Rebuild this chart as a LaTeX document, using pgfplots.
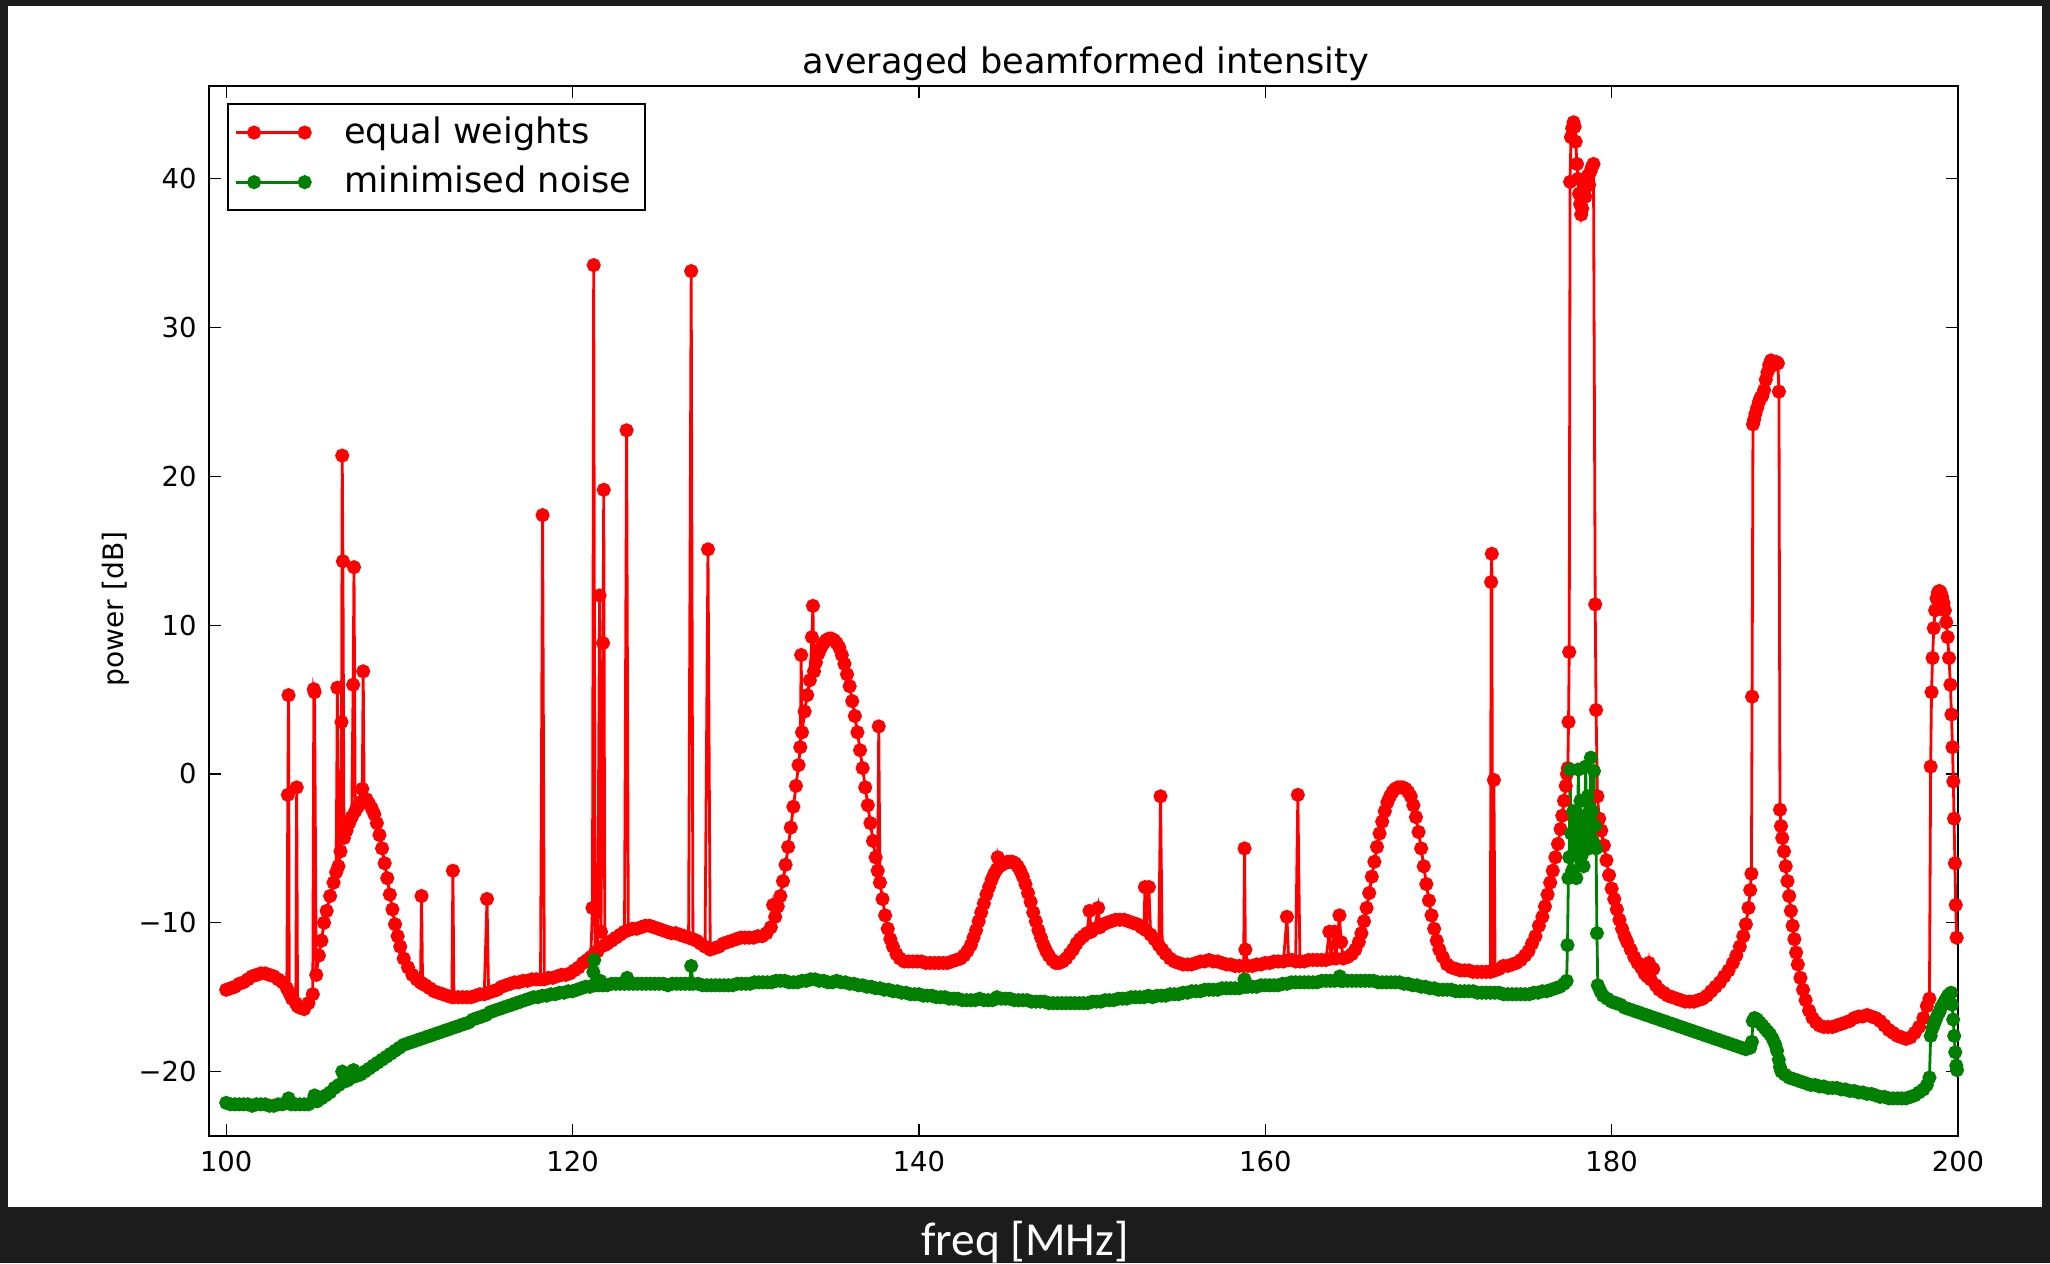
\documentclass[border=0pt]{standalone}
\usepackage{pgfplots}
\pgfplotsset{compat=1.18}
\usepackage{fontspec}
\setmainfont{DejaVu Sans}
\newfontfamily\carlito{Carlito}
\definecolor{bg}{HTML}{1C1C1C}
\definecolor{mplred}{RGB}{255,0,0}
\definecolor{mplgreen}{RGB}{0,128,0}
\begin{document}
\begin{tikzpicture}
\useasboundingbox (0,0) rectangle (205mm,126.3mm);
\fill[bg] (0,0) rectangle (205mm,126.3mm);
\fill[white] (0.8mm,5.6mm) rectangle (204.2mm,125.7mm);
\begin{axis}[
  at={(20.9mm,12.7mm)}, anchor=south west,
  scale only axis, width=174.9mm, height=105mm,
  xmin=99.007, xmax=200, ymin=-24.33, ymax=46.24,
  xtick={100,120,140,160,180,200},
  xticklabels={100,120,140,160,180,200},
  ytick={-20,-10,0,10,20,30,40},
  yticklabels={−20,−10,0,10,20,30,40},
  tick label style={font=\fontsize{7.8}{9}\selectfont},
  xticklabel style={yshift=-0.8pt},
  tick align=inside, major tick length=1.2mm,
  tick style={black, line width=0.12mm},
  axis line style={line width=0.25mm},
  legend style={at={(rel axis cs:0,1)}, anchor=north west, xshift=1.77mm, yshift=-1.73mm,
    draw=black, fill=white, line width=0.2mm, inner xsep=0.7mm, inner ysep=1.5pt,
    font=\fontsize{10}{12}\selectfont, row sep=1pt, column sep=2.7mm,
    cells={anchor=west, inner xsep=0pt, inner ysep=0pt, text height=7.6pt, text depth=2.4pt}},
  legend image code/.code={\path (0mm,0mm) -- (1.8mm,0mm);
    \draw[#1] plot coordinates {(1.8mm,0mm) (6.86mm,0mm)};},
]
\addplot[color=mplred, line width=0.28mm, mark=*, mark size=1.6pt] coordinates {
(100,-14.5)(100.25,-14.4)(100.5,-14.3)(100.75,-14.1)(101,-14.0)(101.25,-13.8)(101.5,-13.6)(101.75,-13.5)(102,-13.4)(102.25,-13.4)(102.5,-13.5)(102.75,-13.6)(103,-13.8)(103.25,-14.0)(103.5,-14.4)(103.56,-1.4)(103.6,5.3)(103.64,-14.7)(103.8,-15.1)(104.02,-15.4)(104.07,-0.9)(104.12,-15.6)(104.25,-15.7)(104.5,-15.8)(104.75,-15.4)(105,-14.8)(105.06,5.7)(105.1,5.5)(105.2,-13.5)(105.35,-12.2)(105.5,-11.2)(105.65,-10.0)(105.8,-9.2)(106,-8.2)(106.2,-7.3)(106.35,-6.6)(106.42,5.8)(106.48,-6.2)(106.6,-5.2)(106.66,3.5)(106.7,21.4)(106.74,14.3)(106.8,-4.3)(106.95,-3.8)(107.1,-3.3)(107.25,-2.9)(107.33,6.0)(107.38,13.9)(107.45,-2.5)(107.6,-2.2)(107.75,-1.9)(107.86,-1.0)(107.91,6.9)(107.97,-1.7)(108.1,-1.7)(108.25,-2.0)(108.4,-2.3)(108.55,-2.7)(108.7,-3.3)(108.85,-4.1)(109,-5.0)(109.15,-6.0)(109.3,-7.0)(109.45,-8.1)(109.6,-9.1)(109.75,-10.1)(109.9,-10.9)(110.05,-11.6)(110.25,-12.4)(110.5,-13.0)(110.75,-13.5)(111,-13.8)(111.22,-14.0)(111.28,-8.2)(111.34,-14.1)(111.5,-14.2)(111.75,-14.4)(112,-14.6)(112.25,-14.7)(112.5,-14.8)(112.75,-14.9)(113.03,-15.0)(113.09,-6.5)(113.15,-15.0)(113.4,-15.0)(113.65,-15.0)(113.9,-15.0)(114.15,-15.0)(114.4,-14.9)(114.65,-14.8)(114.9,-14.8)(115.06,-8.4)(115.15,-14.7)(115.4,-14.6)(115.65,-14.5)(115.9,-14.3)(116.15,-14.2)(116.4,-14.1)(116.65,-14.0)(116.9,-14.0)(117.15,-13.9)(117.4,-13.9)(117.65,-13.8)(117.9,-13.8)(118.15,-13.8)(118.27,17.4)(118.37,-13.8)(118.6,-13.7)(118.85,-13.7)(119.1,-13.6)(119.35,-13.5)(119.6,-13.5)(119.85,-13.4)(120.1,-13.2)(120.35,-13.0)(120.6,-12.7)(120.85,-12.5)(121.05,-12.3)(121.15,-9.0)(121.22,34.2)(121.3,-12.0)(121.45,-11.9)(121.56,12.0)(121.64,-10.6)(121.76,8.8)(121.8,19.1)(121.86,-11.5)(122,-11.4)(122.25,-11.2)(122.5,-11.0)(122.75,-10.8)(123,-10.6)(123.12,23.1)(123.22,-10.5)(123.45,-10.4)(123.7,-10.4)(123.95,-10.3)(124.2,-10.2)(124.45,-10.2)(124.7,-10.3)(124.95,-10.4)(125.2,-10.5)(125.45,-10.6)(125.7,-10.7)(125.95,-10.7)(126.2,-10.8)(126.45,-10.9)(126.7,-11.0)(126.85,33.8)(126.95,-11.1)(127.15,-11.2)(127.4,-11.4)(127.65,-11.6)(127.82,15.1)(127.95,-11.8)(128.2,-11.7)(128.45,-11.6)(128.7,-11.4)(128.95,-11.3)(129.2,-11.2)(129.45,-11.1)(129.7,-11.0)(129.95,-11.0)(130.2,-11.0)(130.45,-11.0)(130.7,-10.9)(130.95,-10.9)(131.2,-10.7)(131.45,-10.3)(131.58,-8.8)(131.7,-9.6)(131.85,-8.9)(132,-8.2)(132.15,-7.2)(132.3,-6.1)(132.45,-4.9)(132.6,-3.6)(132.75,-2.2)(132.9,-0.8)(133.05,0.6)(133.15,1.8)(133.2,8.0)(133.25,2.8)(133.4,4.2)(133.55,5.3)(133.7,6.3)(133.82,9.2)(133.88,11.3)(133.94,6.9)(134.05,7.5)(134.2,8.1)(134.35,8.5)(134.5,8.8)(134.65,9.0)(134.8,9.1)(134.95,9.1)(135.1,9.0)(135.25,8.8)(135.4,8.5)(135.55,8.0)(135.7,7.4)(135.85,6.7)(136,5.9)(136.15,4.9)(136.3,3.9)(136.45,2.8)(136.6,1.6)(136.75,0.4)(136.9,-0.9)(137.05,-2.1)(137.2,-3.3)(137.35,-4.5)(137.5,-5.6)(137.62,-6.5)(137.68,3.2)(137.75,-7.3)(137.9,-8.4)(138.05,-9.5)(138.2,-10.4)(138.35,-11.1)(138.5,-11.6)(138.7,-12.1)(138.9,-12.4)(139.15,-12.6)(139.4,-12.6)(139.65,-12.6)(139.9,-12.6)(140.15,-12.6)(140.4,-12.7)(140.65,-12.7)(140.9,-12.7)(141.15,-12.7)(141.4,-12.7)(141.65,-12.7)(141.9,-12.6)(142.15,-12.5)(142.4,-12.4)(142.6,-12.2)(142.8,-11.9)(143,-11.5)(143.15,-11.0)(143.3,-10.5)(143.45,-9.9)(143.6,-9.3)(143.75,-8.7)(143.9,-8.1)(144.05,-7.6)(144.2,-7.1)(144.35,-6.7)(144.5,-6.4)(144.55,-5.6)(144.65,-6.2)(144.8,-6.1)(144.95,-6.0)(145.1,-5.9)(145.25,-5.9)(145.4,-5.9)(145.55,-6.0)(145.7,-6.2)(145.85,-6.5)(146,-6.9)(146.15,-7.4)(146.3,-8.0)(146.45,-8.6)(146.6,-9.3)(146.75,-9.9)(146.9,-10.5)(147.05,-11.0)(147.2,-11.5)(147.35,-11.9)(147.5,-12.2)(147.7,-12.5)(147.9,-12.7)(148.1,-12.7)(148.3,-12.6)(148.5,-12.4)(148.7,-12.1)(148.9,-11.8)(149.1,-11.4)(149.3,-11.1)(149.5,-10.9)(149.7,-10.7)(149.85,-9.2)(149.95,-10.6)(150.15,-10.4)(150.35,-9.0)(150.45,-10.3)(150.65,-10.1)(150.85,-10.0)(151.1,-9.9)(151.35,-9.8)(151.6,-9.8)(151.85,-9.8)(152.1,-9.9)(152.35,-10.0)(152.6,-10.1)(152.85,-10.3)(153,-10.4)(153.05,-7.6)(153.12,-10.5)(153.28,-7.6)(153.38,-10.8)(153.6,-11.1)(153.85,-11.5)(153.95,-1.5)(154.05,-11.8)(154.25,-12.1)(154.5,-12.4)(154.75,-12.6)(155,-12.7)(155.25,-12.8)(155.5,-12.8)(155.75,-12.8)(156,-12.7)(156.25,-12.6)(156.5,-12.6)(156.75,-12.5)(157,-12.6)(157.25,-12.6)(157.5,-12.7)(157.75,-12.8)(158,-12.8)(158.25,-12.9)(158.5,-12.9)(158.75,-12.9)(158.8,-5.0)(158.85,-11.8)(159,-12.9)(159.25,-12.9)(159.5,-12.8)(159.75,-12.8)(160,-12.7)(160.25,-12.7)(160.5,-12.6)(160.75,-12.6)(161.05,-12.6)(161.25,-9.6)(161.35,-12.5)(161.55,-12.5)(161.75,-12.6)(161.88,-1.4)(162,-12.6)(162.25,-12.6)(162.5,-12.5)(162.75,-12.5)(163,-12.5)(163.25,-12.5)(163.5,-12.5)(163.7,-10.6)(163.8,-12.4)(163.98,-10.6)(164.08,-12.4)(164.28,-9.5)(164.38,-11.3)(164.5,-12.4)(164.75,-12.3)(165,-12.1)(165.2,-11.8)(165.4,-11.3)(165.55,-10.7)(165.7,-9.9)(165.85,-9.0)(166,-8.0)(166.15,-6.9)(166.3,-5.9)(166.45,-4.9)(166.6,-4.0)(166.75,-3.2)(166.9,-2.5)(167.05,-1.9)(167.2,-1.5)(167.35,-1.2)(167.5,-1.0)(167.65,-0.9)(167.8,-0.9)(167.95,-0.9)(168.1,-1.0)(168.25,-1.2)(168.4,-1.5)(168.55,-2.1)(168.7,-2.9)(168.85,-3.9)(169,-5.0)(169.15,-6.2)(169.3,-7.4)(169.45,-8.5)(169.6,-9.5)(169.75,-10.4)(169.9,-11.2)(170.05,-11.8)(170.25,-12.3)(170.5,-12.8)(170.75,-13.0)(171,-13.1)(171.25,-13.2)(171.5,-13.2)(171.75,-13.2)(172,-13.3)(172.25,-13.3)(172.5,-13.3)(172.75,-13.3)(173,-13.3)(173.04,12.9)(173.08,14.8)(173.13,-13.2)(173.2,-0.4)(173.27,-13.2)(173.5,-13.1)(173.75,-12.9)(174,-12.9)(174.25,-12.8)(174.5,-12.7)(174.75,-12.5)(175,-12.2)(175.2,-11.9)(175.4,-11.4)(175.6,-10.9)(175.8,-10.2)(176,-9.6)(176.15,-8.9)(176.3,-8.1)(176.45,-7.3)(176.6,-6.5)(176.75,-5.6)(176.9,-4.7)(177.05,-3.7)(177.15,-2.8)(177.25,-1.8)(177.35,-0.8)(177.42,0.0)(177.47,0.4)(177.51,3.5)(177.55,8.2)(177.6,39.8)(177.65,42.8)(177.72,43.4)(177.8,43.8)(177.86,43.5)(177.92,42.5)(178,41.0)(178.06,40.0)(178.12,39.0)(178.18,38.3)(178.24,37.6)(178.3,38.0)(178.36,38.8)(178.42,39.5)(178.48,38.8)(178.55,39.5)(178.62,40.2)(178.7,39.6)(178.78,40.5)(178.86,40.8)(178.95,41.0)(179.05,11.4)(179.1,4.3)(179.18,-1.5)(179.28,-3.0)(179.4,-3.8)(179.55,-4.8)(179.7,-5.8)(179.85,-6.8)(180,-7.7)(180.15,-8.4)(180.3,-9.1)(180.45,-9.8)(180.6,-10.4)(180.75,-10.9)(180.9,-11.3)(181.1,-11.8)(181.3,-12.3)(181.5,-12.7)(181.7,-13.0)(181.9,-13.4)(182.05,-13.6)(182.15,-12.7)(182.25,-13.8)(182.4,-13.1)(182.55,-14.2)(182.75,-14.5)(183,-14.7)(183.25,-14.9)(183.5,-15.0)(183.75,-15.1)(184,-15.2)(184.25,-15.3)(184.5,-15.3)(184.75,-15.3)(185,-15.2)(185.25,-15.1)(185.5,-14.9)(185.75,-14.6)(186,-14.3)(186.25,-14.0)(186.5,-13.6)(186.75,-13.2)(187,-12.7)(187.2,-12.2)(187.4,-11.6)(187.6,-10.9)(187.75,-10.1)(187.9,-9.0)(188,-7.8)(188.07,-6.7)(188.11,5.2)(188.16,23.5)(188.22,23.8)(188.3,24.2)(188.4,24.6)(188.5,25.0)(188.6,25.3)(188.7,25.4)(188.8,25.8)(188.9,26.5)(189,27.0)(189.1,27.5)(189.2,27.8)(189.3,27.7)(189.4,27.5)(189.5,27.7)(189.6,27.6)(189.66,25.7)(189.72,-2.4)(189.78,-3.5)(189.85,-4.3)(189.95,-5.2)(190.05,-6.2)(190.15,-7.2)(190.25,-8.2)(190.35,-9.2)(190.45,-10.2)(190.55,-11.1)(190.65,-12.0)(190.75,-12.8)(190.9,-13.7)(191.05,-14.5)(191.2,-15.2)(191.4,-15.9)(191.6,-16.4)(191.8,-16.7)(192,-16.9)(192.25,-17.0)(192.5,-17.0)(192.75,-17.0)(193,-16.9)(193.25,-16.8)(193.5,-16.7)(193.75,-16.6)(194,-16.4)(194.25,-16.3)(194.5,-16.3)(194.75,-16.2)(195,-16.3)(195.25,-16.4)(195.5,-16.6)(195.75,-16.9)(196,-17.2)(196.25,-17.4)(196.5,-17.6)(196.75,-17.7)(197,-17.8)(197.25,-17.7)(197.5,-17.4)(197.75,-17.0)(198,-16.4)(198.2,-15.6)(198.35,-15.1)(198.42,0.5)(198.47,5.5)(198.53,7.8)(198.6,9.8)(198.68,11.0)(198.76,11.8)(198.84,12.2)(198.92,12.3)(199,12.2)(199.08,11.9)(199.16,11.5)(199.24,11.0)(199.32,10.2)(199.4,9.2)(199.48,7.8)(199.56,6.0)(199.62,4.0)(199.68,1.8)(199.73,-0.5)(199.77,-3.0)(199.82,-6.0)(199.87,-8.8)(199.92,-11.0)
};
\addlegendentry{equal weights}
\addplot[color=mplgreen, line width=0.28mm, mark=*, mark size=1.6pt] coordinates {
(100,-22.1)(100.25,-22.2)(100.5,-22.2)(100.75,-22.2)(101,-22.2)(101.25,-22.2)(101.5,-22.3)(101.75,-22.2)(102,-22.2)(102.25,-22.2)(102.5,-22.3)(102.75,-22.3)(103,-22.2)(103.25,-22.2)(103.5,-22.1)(103.6,-21.8)(103.75,-22.2)(104,-22.2)(104.25,-22.2)(104.5,-22.2)(104.75,-22.2)(105,-22.0)(105.1,-21.6)(105.25,-22.0)(105.5,-21.8)(105.75,-21.6)(106,-21.4)(106.25,-21.1)(106.5,-20.9)(106.7,-20.0)(106.75,-20.7)(107,-20.6)(107.25,-20.4)(107.35,-19.9)(107.5,-20.3)(107.75,-20.2)(108,-20.0)(108.25,-19.8)(108.5,-19.6)(108.75,-19.4)(109,-19.2)(109.25,-19.0)(109.5,-18.8)(109.75,-18.6)(110,-18.4)(110.25,-18.2)(110.5,-18.1)(110.75,-18.0)(111,-17.9)(111.25,-17.8)(111.5,-17.7)(111.75,-17.6)(112,-17.5)(112.25,-17.4)(112.5,-17.3)(112.75,-17.2)(113,-17.1)(113.25,-17.0)(113.5,-16.9)(113.75,-16.8)(114,-16.7)(114.25,-16.5)(114.5,-16.4)(114.75,-16.3)(115,-16.2)(115.25,-16.0)(115.5,-15.9)(115.75,-15.8)(116,-15.7)(116.25,-15.6)(116.5,-15.5)(116.75,-15.4)(117,-15.3)(117.25,-15.2)(117.5,-15.1)(117.75,-15.0)(118,-15.0)(118.25,-14.9)(118.5,-14.9)(118.75,-14.8)(119,-14.8)(119.25,-14.7)(119.5,-14.7)(119.75,-14.6)(120,-14.6)(120.25,-14.5)(120.5,-14.4)(120.75,-14.3)(121,-14.3)(121.2,-13.3)(121.25,-12.5)(121.3,-14.2)(121.5,-14.2)(121.6,-13.9)(121.75,-14.2)(122,-14.2)(122.25,-14.1)(122.5,-14.1)(122.75,-14.1)(123,-14.1)(123.15,-13.7)(123.25,-14.1)(123.5,-14.1)(123.75,-14.1)(124,-14.1)(124.25,-14.1)(124.5,-14.1)(124.75,-14.1)(125,-14.1)(125.25,-14.1)(125.5,-14.2)(125.75,-14.1)(126,-14.1)(126.25,-14.1)(126.5,-14.1)(126.75,-14.1)(126.85,-12.9)(126.95,-14.1)(127.25,-14.1)(127.5,-14.2)(127.75,-14.2)(128,-14.2)(128.25,-14.2)(128.5,-14.2)(128.75,-14.2)(129,-14.2)(129.25,-14.2)(129.5,-14.1)(129.75,-14.1)(130,-14.1)(130.25,-14.1)(130.5,-14.0)(130.75,-14.0)(131,-14.0)(131.25,-14.0)(131.5,-14.0)(131.75,-13.9)(132,-13.9)(132.25,-13.9)(132.5,-14.0)(132.75,-14.0)(133,-14.0)(133.25,-13.9)(133.5,-13.9)(133.75,-13.8)(134,-13.8)(134.25,-13.9)(134.5,-13.9)(134.75,-14.0)(135,-14.0)(135.25,-13.9)(135.5,-14.0)(135.75,-14.0)(136,-14.1)(136.25,-14.1)(136.5,-14.2)(136.75,-14.2)(137,-14.3)(137.25,-14.3)(137.5,-14.4)(137.75,-14.4)(138,-14.5)(138.25,-14.5)(138.5,-14.6)(138.75,-14.6)(139,-14.7)(139.25,-14.7)(139.5,-14.8)(139.75,-14.8)(140,-14.8)(140.25,-14.9)(140.5,-14.9)(140.75,-14.9)(141,-15.0)(141.25,-15.0)(141.5,-15.0)(141.75,-15.1)(142,-15.1)(142.25,-15.1)(142.5,-15.2)(142.75,-15.2)(143,-15.2)(143.25,-15.2)(143.5,-15.1)(143.75,-15.2)(144,-15.2)(144.25,-15.2)(144.5,-15.0)(144.75,-15.1)(145,-15.1)(145.25,-15.1)(145.5,-15.2)(145.75,-15.2)(146,-15.2)(146.25,-15.2)(146.5,-15.3)(146.75,-15.3)(147,-15.3)(147.25,-15.3)(147.5,-15.4)(147.75,-15.4)(148,-15.4)(148.25,-15.4)(148.5,-15.4)(148.75,-15.4)(149,-15.4)(149.25,-15.4)(149.5,-15.4)(149.75,-15.4)(150,-15.3)(150.25,-15.3)(150.5,-15.3)(150.75,-15.2)(151,-15.2)(151.25,-15.2)(151.5,-15.1)(151.75,-15.1)(152,-15.1)(152.25,-15.0)(152.5,-15.0)(152.75,-15.0)(153,-15.0)(153.25,-14.9)(153.5,-15.0)(153.75,-14.9)(154,-14.9)(154.25,-14.9)(154.5,-14.8)(154.75,-14.8)(155,-14.8)(155.25,-14.7)(155.5,-14.7)(155.75,-14.6)(156,-14.6)(156.25,-14.6)(156.5,-14.5)(156.75,-14.5)(157,-14.5)(157.25,-14.5)(157.5,-14.4)(157.75,-14.4)(158,-14.4)(158.25,-14.4)(158.5,-14.4)(158.8,-13.8)(158.85,-14.3)(159,-14.3)(159.25,-14.3)(159.5,-14.3)(159.75,-14.2)(160,-14.2)(160.25,-14.2)(160.5,-14.2)(160.75,-14.2)(161,-14.1)(161.25,-14.1)(161.5,-14.0)(161.75,-14.0)(162,-14.0)(162.25,-14.0)(162.5,-14.0)(162.75,-14.0)(163,-14.0)(163.25,-13.9)(163.5,-13.9)(163.75,-13.9)(164,-13.9)(164.3,-13.6)(164.35,-13.9)(164.5,-13.9)(164.75,-13.9)(165,-13.9)(165.25,-13.9)(165.5,-13.9)(165.75,-13.9)(166,-13.9)(166.25,-13.9)(166.5,-14.0)(166.75,-14.0)(167,-14.0)(167.25,-14.0)(167.5,-14.0)(167.75,-14.0)(168,-14.1)(168.25,-14.1)(168.5,-14.2)(168.75,-14.2)(169,-14.3)(169.25,-14.3)(169.5,-14.4)(169.75,-14.4)(170,-14.5)(170.25,-14.5)(170.5,-14.5)(170.75,-14.5)(171,-14.6)(171.25,-14.6)(171.5,-14.6)(171.75,-14.6)(172,-14.6)(172.25,-14.7)(172.5,-14.7)(172.75,-14.7)(173,-14.7)(173.25,-14.7)(173.5,-14.7)(173.75,-14.8)(174,-14.8)(174.25,-14.8)(174.5,-14.8)(174.75,-14.8)(175,-14.8)(175.25,-14.8)(175.5,-14.7)(175.75,-14.7)(176,-14.6)(176.25,-14.6)(176.5,-14.5)(176.75,-14.4)(177,-14.3)(177.25,-14.1)(177.4,-13.9)(177.45,-11.5)(177.5,-7.0)(177.55,-5.6)(177.6,0.3)(177.66,-4.0)(177.72,-6.5)(177.78,-2.5)(177.84,-5.2)(177.9,-3.0)(177.96,-7.0)(178.02,-3.8)(178.08,0.3)(178.14,-4.6)(178.2,-1.8)(178.26,-5.5)(178.32,-3.2)(178.38,-6.2)(178.44,-2.8)(178.5,0.5)(178.56,-4.0)(178.62,-1.5)(178.68,-5.0)(178.74,-3.0)(178.8,1.1)(178.86,-2.5)(178.92,-4.5)(178.98,0.2)(179.04,-3.5)(179.1,-5.0)(179.15,-10.7)(179.2,-14.2)(179.35,-14.6)(179.5,-14.9)(179.75,-15.1)(180,-15.3)(180.25,-15.4)(180.5,-15.5)(180.75,-15.7)(181,-15.8)(181.25,-15.9)(181.5,-16.0)(181.75,-16.1)(182,-16.2)(182.25,-16.3)(182.5,-16.4)(182.75,-16.5)(183,-16.6)(183.25,-16.7)(183.5,-16.8)(183.75,-16.9)(184,-17.0)(184.25,-17.1)(184.5,-17.2)(184.75,-17.3)(185,-17.4)(185.25,-17.5)(185.5,-17.6)(185.75,-17.7)(186,-17.8)(186.25,-17.9)(186.5,-18.0)(186.75,-18.1)(187,-18.2)(187.25,-18.3)(187.5,-18.4)(187.75,-18.5)(188,-18.4)(188.1,-18.0)(188.15,-16.6)(188.25,-16.4)(188.4,-16.5)(188.55,-16.7)(188.7,-16.9)(188.85,-17.1)(189,-17.3)(189.15,-17.5)(189.3,-17.8)(189.45,-18.2)(189.55,-18.6)(189.65,-19.2)(189.72,-19.7)(189.8,-20.0)(190,-20.2)(190.25,-20.4)(190.5,-20.5)(190.75,-20.6)(191,-20.7)(191.25,-20.8)(191.5,-20.9)(191.75,-20.9)(192,-21.0)(192.25,-21.0)(192.5,-21.1)(192.75,-21.1)(193,-21.1)(193.25,-21.2)(193.5,-21.2)(193.75,-21.3)(194,-21.3)(194.25,-21.4)(194.5,-21.4)(194.75,-21.5)(195,-21.5)(195.25,-21.6)(195.5,-21.7)(195.75,-21.7)(196,-21.8)(196.25,-21.8)(196.5,-21.8)(196.75,-21.8)(197,-21.8)(197.25,-21.7)(197.5,-21.6)(197.75,-21.4)(198,-21.2)(198.2,-20.9)(198.35,-20.4)(198.42,-17.6)(198.52,-17.1)(198.62,-16.8)(198.72,-16.5)(198.82,-16.2)(198.92,-16.0)(199.02,-15.7)(199.12,-15.5)(199.22,-15.3)(199.32,-15.1)(199.42,-14.9)(199.52,-14.8)(199.6,-14.7)(199.66,-15.5)(199.72,-16.5)(199.78,-17.6)(199.84,-18.7)(199.9,-19.6)(199.94,-19.9)
};
\addlegendentry{minimised noise}
\end{axis}
\node[anchor=base, font=\fontsize{10}{12}\selectfont] at (108.6mm,119.0mm) {averaged beamformed intensity};
\node[rotate=90, anchor=center, font=\fontsize{8}{10}\selectfont] at (11.6mm,65.4mm) {power [dB]};
\node[anchor=base, text=white, font=\carlito\fontsize{13.5}{16}\selectfont] at (102.5mm,0.8mm) {freq [MHz]};
\end{tikzpicture}
\end{document}
